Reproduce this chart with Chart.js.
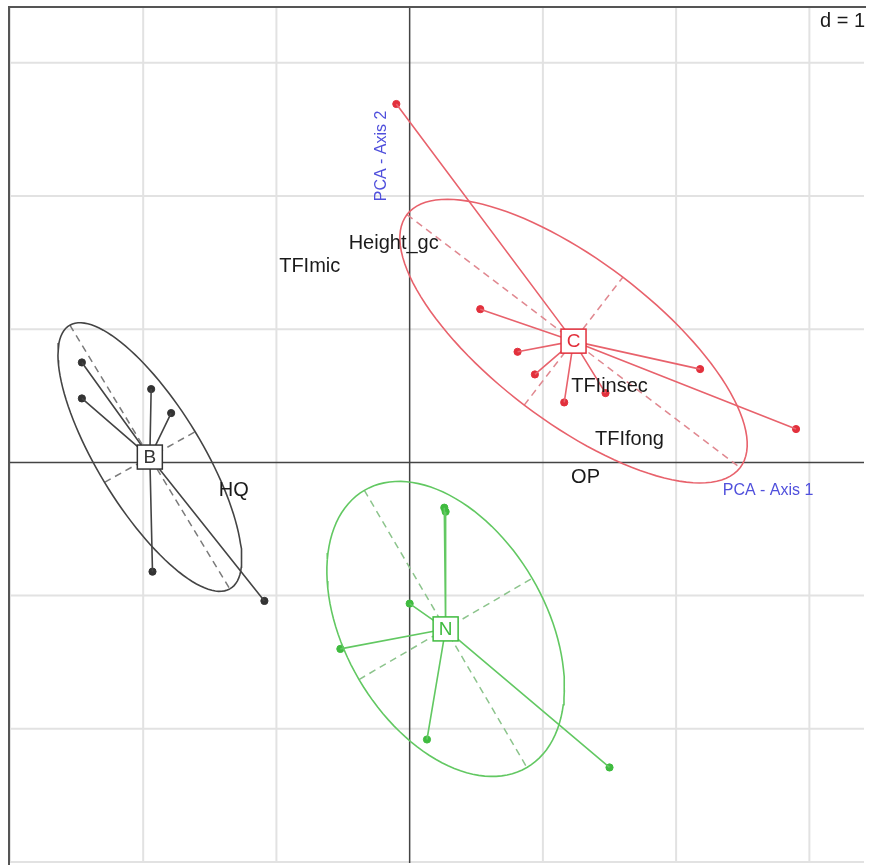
<!DOCTYPE html>
<html>
<head>
<meta charset="utf-8">
<script src="https://cdn.jsdelivr.net/npm/chart.js@4.4.1/dist/chart.umd.min.js"></script>
<style>
  html, body { margin: 0; padding: 0; background: #fff; overflow: hidden; }
  canvas { display: block; }
</style>
</head>
<body>
<canvas id="pca-chart" width="869" height="868" style="width:869px;height:868px"></canvas>
<script>
// groups
const groupNames = ["B", "C", "N"];
const groupColors = ["#333333", "#e2303c", "#3fbb3f"];
const groupLineColors = ["#444444", "#e8626c", "#62c862"];
const groupDashColors = ["#7a7a7a", "#e08890", "#8cc48c"];

// individuals (x, y) per group
const pointsB = [[-2.46, 0.75], [-2.46, 0.48], [-1.94, 0.55], [-1.79, 0.37], [-1.93, -0.82], [-1.09, -1.04]];
const pointsC = [[0.53, 1.15], [0.81, 0.83], [0.94, 0.66], [1.16, 0.45], [1.47, 0.52], [2.18, 0.70], [2.90, 0.25], [-0.10, 2.69]];
const pointsN = [[0.26, -0.34], [0.27, -0.37], [0.00, -1.06], [-0.52, -1.40], [0.13, -2.08], [1.50, -2.29]];

// class centres and ellipse half-axes
const centres = [[-1.95, 0.04], [1.23, 0.91], [0.27, -1.25]];
const majorAxes = [[0.60, -0.99], [1.25, -0.95], [0.61, -1.04]];
const minorAxes = [[0.34, 0.19], [0.37, 0.48], [0.65, 0.38]];

// variable labels
const varNames = ["Height_gc", "TFImic", "TFIinsec", "TFIfong", "OP", "HQ"];
const varX = [-0.12, -0.75, 1.50, 1.65, 1.32, -1.32];
const varY = [1.64, 1.47, 0.57, 0.17, -0.11, -0.21];

const gridValues = [-3, -2, -1, 0, 1, 2, 3];

const allPoints = [pointsB, pointsC, pointsN];
const gap = function() { return {x: null, y: null}; };

function ellipsePath(c, a, b) {
  const out = [];
  for (let i = 0; i <= 120; i++) {
    const t = i / 120 * 2 * Math.PI;
    out.push({x: c[0] + a[0] * Math.cos(t) + b[0] * Math.sin(t),
              y: c[1] + a[1] * Math.cos(t) + b[1] * Math.sin(t)});
  }
  return out;
}

const datasets = [];
groupNames.forEach(function(g, i) {
  const c = centres[i], a = majorAxes[i], b = minorAxes[i];
  datasets.push({
    type: 'line', label: g + ' ellipse', data: ellipsePath(c, a, b),
    borderColor: groupLineColors[i], borderWidth: 1.6, pointRadius: 0, tension: 0, fill: false
  });
  datasets.push({
    type: 'line', label: g + ' axes',
    data: [{x: c[0] - a[0], y: c[1] - a[1]}, {x: c[0] + a[0], y: c[1] + a[1]}, gap(),
           {x: c[0] - b[0], y: c[1] - b[1]}, {x: c[0] + b[0], y: c[1] + b[1]}],
    borderColor: groupDashColors[i], borderWidth: 1.5, borderDash: [7, 5],
    pointRadius: 0, spanGaps: false, fill: false
  });
  const star = [];
  allPoints[i].forEach(function(p) {
    star.push({x: c[0], y: c[1]}, {x: p[0], y: p[1]}, gap());
  });
  datasets.push({
    type: 'line', label: g + ' star', data: star,
    borderColor: groupLineColors[i], borderWidth: 1.6, pointRadius: 0, spanGaps: false, fill: false
  });
  datasets.push({
    type: 'scatter', label: g,
    data: allPoints[i].map(function(p) { return {x: p[0], y: p[1]}; }),
    backgroundColor: groupColors[i], borderColor: groupColors[i], pointRadius: 3.6
  });
});

const gridPlugin = {
  id: 'gridPlugin',
  beforeDatasetsDraw(chart) {
    const ctx = chart.ctx, xs = chart.scales.x, ys = chart.scales.y, area = chart.chartArea;
    ctx.save();
    ctx.lineWidth = 2;
    ctx.strokeStyle = '#e2e2e2';
    gridValues.forEach(function(v) {
      if (v === 0) return;
      const px = xs.getPixelForValue(v), py = ys.getPixelForValue(v);
      ctx.beginPath();
      ctx.moveTo(px, area.top); ctx.lineTo(px, area.bottom);
      ctx.moveTo(area.left, py); ctx.lineTo(area.right, py);
      ctx.stroke();
    });
    ctx.strokeStyle = '#444';
    ctx.lineWidth = 1.5;
    ctx.beginPath();
    ctx.moveTo(xs.getPixelForValue(0), area.top); ctx.lineTo(xs.getPixelForValue(0), area.bottom);
    ctx.moveTo(area.left, ys.getPixelForValue(0)); ctx.lineTo(area.right, ys.getPixelForValue(0));
    ctx.stroke();
    ctx.restore();
  }
};

const overlay = {
  id: 'overlay',
  afterDatasetsDraw(chart) {
    const ctx = chart.ctx, xs = chart.scales.x, ys = chart.scales.y, area = chart.chartArea;
    ctx.save();
    // frame
    ctx.strokeStyle = '#555';
    ctx.lineWidth = 2;
    ctx.beginPath();
    ctx.moveTo(area.left, area.bottom + 2);
    ctx.lineTo(area.left, area.top);
    ctx.lineTo(area.right + 2, area.top);
    ctx.stroke();

    ctx.textAlign = 'center';
    ctx.textBaseline = 'middle';
    // variable names
    ctx.fillStyle = '#1a1a1a';
    ctx.font = '20px "Liberation Sans", Arial, sans-serif';
    varNames.forEach(function(n, i) {
      ctx.fillText(n, xs.getPixelForValue(varX[i]), ys.getPixelForValue(varY[i]));
    });
    // class labels in boxes
    ctx.font = '19px "Liberation Sans", Arial, sans-serif';
    groupNames.forEach(function(g, i) {
      const px = xs.getPixelForValue(centres[i][0]), py = ys.getPixelForValue(centres[i][1]);
      ctx.fillStyle = '#fff';
      ctx.fillRect(px - 12.5, py - 12, 25, 24);
      ctx.strokeStyle = groupColors[i];
      ctx.lineWidth = 1.5;
      ctx.strokeRect(px - 12.5, py - 12, 25, 24);
      ctx.fillStyle = groupColors[i];
      ctx.fillText(g, px, py + 1);
    });
    // axis names
    ctx.fillStyle = '#5050dc';
    ctx.font = '16px "Liberation Sans", Arial, sans-serif';
    ctx.fillText('PCA - Axis 1', xs.getPixelForValue(2.69), ys.getPixelForValue(-0.21));
    ctx.save();
    ctx.translate(xs.getPixelForValue(-0.21), ys.getPixelForValue(2.30));
    ctx.rotate(-Math.PI / 2);
    ctx.fillText('PCA - Axis 2', 0, 0);
    ctx.restore();
    // scale
    ctx.fillStyle = '#1a1a1a';
    ctx.font = '20px "Liberation Sans", Arial, sans-serif';
    ctx.textAlign = 'right';
    ctx.fillText('d = 1', area.right + 1, area.top + 14);
    ctx.restore();
  }
};

new Chart(document.getElementById("pca-chart"), {
  type: 'scatter',
  data: { datasets: datasets },
  options: {
    responsive: false,
    animation: false,
    layout: { padding: { left: 9, top: 7, right: 0, bottom: 0 } },
    plugins: { legend: { display: false }, tooltip: { enabled: false } },
    scales: {
      x: { type: 'linear', display: false, min: -3.007, max: 3.41 },
      y: { type: 'linear', display: false, min: -3.007, max: 3.418 }
    }
  },
  plugins: [gridPlugin, overlay]
});
</script>
</body>
</html>
